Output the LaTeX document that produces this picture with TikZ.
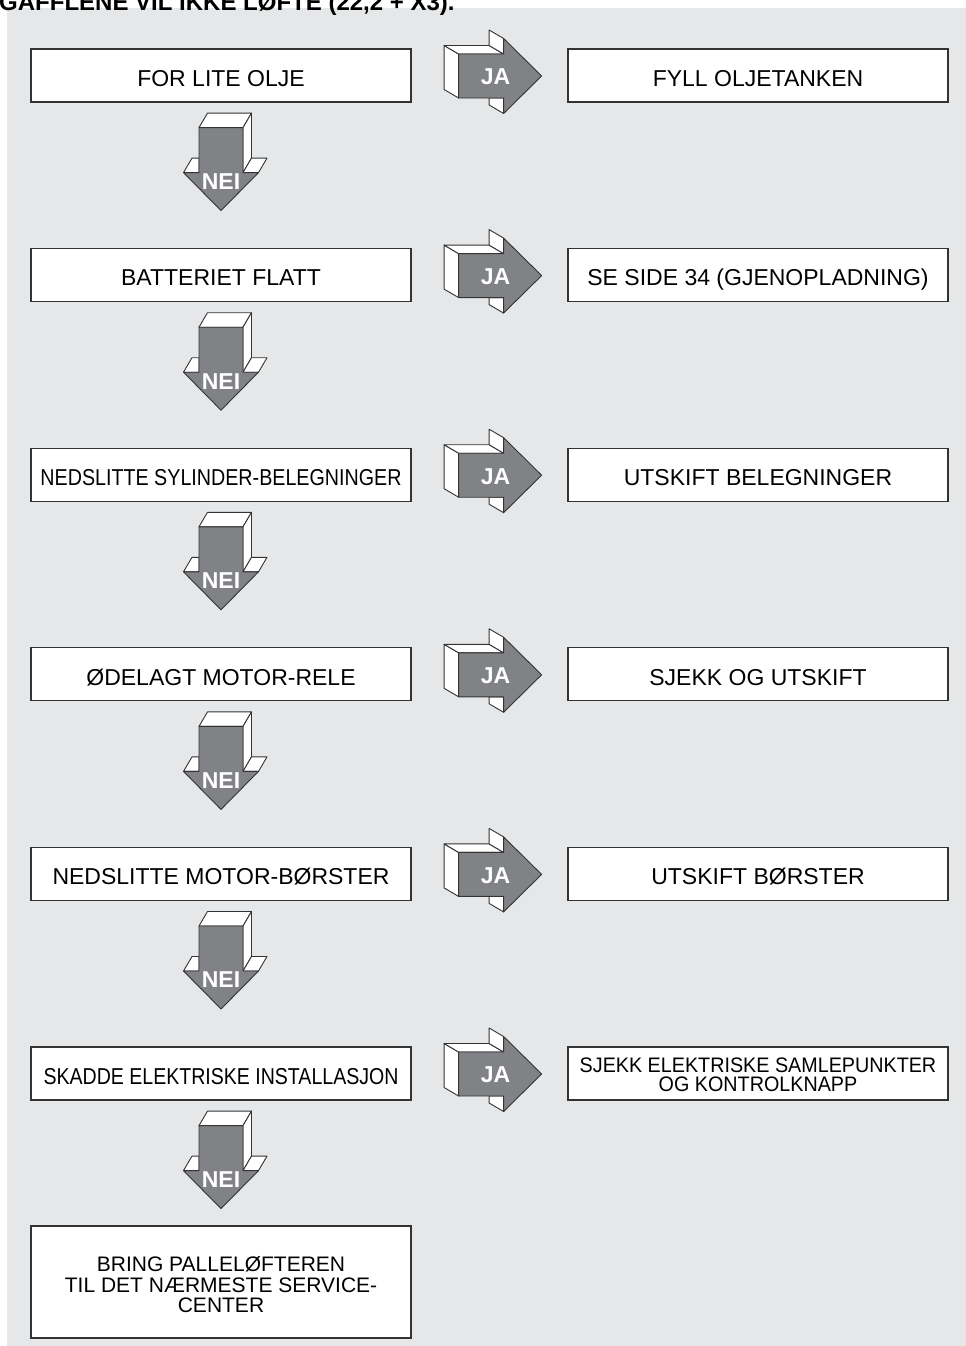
\documentclass[tikz,border=0pt]{standalone}
\usepackage{fontspec}
\setmainfont{Liberation Sans}
\usetikzlibrary{calc}
\definecolor{bggray}{HTML}{E6E7E8}
\definecolor{argray}{HTML}{808285}
\definecolor{edgecol}{HTML}{333333}
\tikzset{
  lbox/.style={draw=edgecol, line width=1.2pt, fill=white, minimum width=380pt, minimum height=53pt,
    inner sep=0pt, text height=26.5pt, text depth=5pt, font=\fontsize{23}{26}\selectfont},
  mbox/.style={draw=edgecol, line width=1.2pt, fill=white, minimum width=380pt, inner sep=0pt, align=center},
  arrowlabel/.style={text=white, font=\bfseries\fontsize{23}{26}\selectfont, inner sep=0pt},
  sideface/.style={draw=edgecol, line width=0.9pt, line join=round, fill=white},
  frontface/.style={draw=edgecol, line width=0.9pt, line join=round, fill=argray},
  blockarrow/.pic={
    \path[sideface] (0,-22) -- (-14.5,-30.5) -- (-14.5,13.5) -- (0,22) -- cycle;
    \path[sideface] (0,-22) -- (-14.5,-30.5) -- (30.5,-30.5) -- (45,-22) -- cycle;
    \path[sideface] (45,-37.5) -- (30.5,-46) -- (30.5,-30.5) -- (45,-22) -- cycle;
    \path[sideface] (30.5,22) -- (45,22) -- (45,37.5) -- (30.5,29) -- cycle;
    \path[frontface] (0,-22) -- (45,-22) -- (45,-37.5) -- (83,0) -- (45,37.5) -- (45,22) -- (0,22) -- cycle;
  }
}
\begin{document}
\begin{tikzpicture}[x=1pt,y=-1pt]
\useasboundingbox (0,0) rectangle (966,1346);
\clip (0,0) rectangle (966,1346);
\fill[bggray] (7,8) rectangle (966,1346);
\node[anchor=base west, inner sep=0pt, font=\bfseries\fontsize{24}{26}\selectfont] (title) at (-1,11) {GAFFLENE VIL IKKE LØFTE (22,2 + X3).};

% questions (left) and answers (right)
\node[lbox] (q1) at (221,75.5) {FOR LITE OLJE};
\node[lbox] (a1) at (758,75.5) {FYLL OLJETANKEN};
\node[lbox] (q2) at (221,275.1) {BATTERIET FLATT};
\node[lbox] (a2) at (758,275.1) {SE SIDE 34 (GJENOPLADNING)};
\node[lbox] (q3) at (221,474.7) {\scalebox{0.856}[1]{NEDSLITTE SYLINDER-BELEGNINGER}};
\node[lbox] (a3) at (758,474.7) {UTSKIFT BELEGNINGER};
\node[lbox] (q4) at (221,674.3) {ØDELAGT MOTOR-RELE};
\node[lbox] (a4) at (758,674.3) {SJEKK OG UTSKIFT};
\node[lbox] (q5) at (221,873.9) {NEDSLITTE MOTOR-BØRSTER};
\node[lbox] (a5) at (758,873.9) {UTSKIFT BØRSTER};
\node[lbox] (q6) at (221,1073.5) {\scalebox{0.85}[1]{SKADDE ELEKTRISKE INSTALLASJON}};
\node[mbox, minimum height=53pt, font=\fontsize{21}{19}\selectfont] (a6) at (758,1073.5)
  {\rule{0pt}{17pt}\scalebox{0.94}[1]{SJEKK ELEKTRISKE SAMLEPUNKTER}\\\scalebox{0.94}[1]{OG KONTROLKNAPP}};
\node[mbox, minimum height=112pt, font=\fontsize{21}{20.5}\selectfont] (q7) at (221,1282)
  {\rule{0pt}{21pt}BRING PALLELØFTEREN\\TIL DET NÆRMESTE SERVICE-\\CENTER};

% JA arrows
\foreach \i in {1,...,6}{
  \pic at ($(q\i.east)+(47,0.5)$) {blockarrow};
  \node[arrowlabel] (ja\i) at ($(q\i.east)+(84,1.5)$) {JA};
}
% NEI arrows
\foreach \i in {1,...,6}{
  \pic[rotate=-90] at ($(q\i.south)+(0,25)$) {blockarrow};
  \node[arrowlabel] (nei\i) at ($(q\i.south)+(0,79)$) {NEI};
}
\end{tikzpicture}
\end{document}
